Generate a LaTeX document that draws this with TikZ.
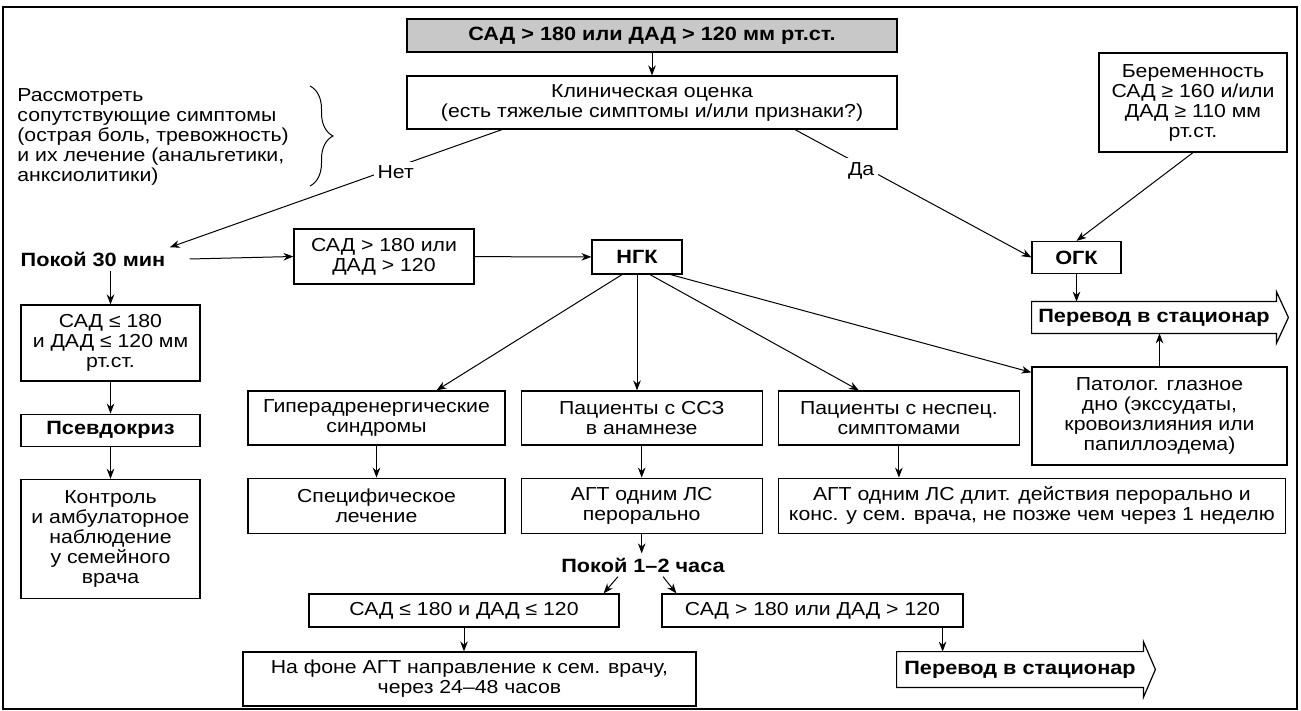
\documentclass[tikz,border=0pt]{standalone}
\usepackage{fontspec}
\setmainfont[FakeStretch=1.13]{Liberation Sans}
\usepackage{tikz}
\usetikzlibrary{positioning,arrows.meta,decorations.pathreplacing,calc}
\definecolor{HeadGrey}{RGB}{200,200,200}
\newcommand{\hosparrow}[1]{\draw[line width=0.6pt] (#1.north west)--(#1.north east)--([yshift=5pt]#1.north east)--([xshift=6pt]#1.east)--([yshift=-5pt]#1.south east)--(#1.south east)--(#1.south west)--cycle;}

\begin{document}
\begin{tikzpicture}[x=0.5pt,y=-0.5pt,
font=\fontsize{9.4}{10}\selectfont,
box/.style={rectangle,draw,line width=0.6pt,align=center,inner sep=2pt},
bold/.style={font=\fontsize{9.6}{10}\selectfont\bfseries},
lbl/.style={fill=white,inner sep=2pt},
arrow/.style={-{Stealth[length=5pt,width=3.8pt]},line width=0.5pt},
frame/.style={draw,line width=1.2pt}
]
\useasboundingbox (0,0) rectangle (1301,711);
\draw[frame] (3,7) rectangle (1297,709);
\node[box,bold,fill=HeadGrey,minimum width=245pt,minimum height=16.5pt] (top) at (652,35.5) {САД > 180 или ДАД > 120 мм рт.ст.};
\node[box,minimum width=245pt,minimum height=26.5pt] (clin) at (652,102.5) {Клиническая оценка\\(есть тяжелые симптомы и/или признаки?)};
\node[align=left,anchor=west,inner sep=0pt] (note) at (17,137) {Рассмотреть\\сопутствующие симптомы\\(острая боль, тревожность)\\и их лечение (анальгетики,\\анксиолитики)};
\coordinate (brtop) at (310,86);
\coordinate (brbot) at (310,186);
\draw[line width=0.5pt,decorate,decoration={brace,amplitude=11.5pt}] (brtop) -- (brbot);
\node[box,minimum width=94pt,minimum height=49.5pt] (preg) at (1193,102.5) {Беременность\\САД ≥ 160 и/или\\ДАД ≥ 110 мм\\рт.ст.};
\node[bold,inner sep=2pt] (pause30) at (93,259) {Покой 30 мин};
\node[box,minimum width=90pt,minimum height=27.5pt] (hi1) at (384,256.5) {САД > 180 или\\ДАД > 120};
\node[box,bold,minimum width=45pt,minimum height=17pt] (ngk) at (637,257) {НГК};
\node[box,bold,minimum width=44.5pt,minimum height=16pt] (ogk) at (1076.5,257.5) {ОГК};
\node[bold,minimum width=122pt,minimum height=15.5pt,inner sep=0pt] (hosp1) at (1154,317.5) {Перевод в стационар};
\hosparrow{hosp1}
\node[box,minimum width=127.5pt,minimum height=49pt] (patho) at (1159.5,416) {Патолог. глазное\\дно (экссудаты,\\кровоизлияния или\\папиллоэдема)};
\node[box,minimum width=89.5pt,minimum height=38pt] (low30) at (110.5,343) {САД ≤ 180\\и ДАД ≤ 120 мм\\рт.ст.};
\node[box,bold,minimum width=89.5pt,minimum height=16pt,below=16pt of low30] (pseudo) {Псевдокриз};
\node[box,minimum width=89.5pt,minimum height=59.5pt,below=16pt of pseudo] (ctrl) {Контроль\\и амбулаторное\\наблюдение\\у семейного\\врача};
\node[box,minimum width=128.5pt,minimum height=27pt] (hyper) at (376.5,418) {Гиперадренергические\\синдромы};
\node[box,minimum width=120.5pt,minimum height=27pt,right=7.5pt of hyper] (ssz) {Пациенты с ССЗ\\в анамнезе};
\node[box,minimum width=120.5pt,minimum height=27pt,right=7.5pt of ssz] (nonsp) {Пациенты с неспец.\\симптомами};
\node[box,minimum width=128.5pt,minimum height=27.5pt,below=16pt of hyper] (spec) {Специфическое\\лечение};
\node[box,minimum width=120.5pt,minimum height=27.5pt,below=16pt of ssz] (agt1) {АГТ одним ЛС\\перорально};
\node[box,minimum width=253.5pt,minimum height=27.5pt,below=16pt of nonsp.south west,anchor=north west] (agt2) {АГТ одним ЛС длит. действия перорально и\\конс. у сем. врача, не позже чем через 1 неделю};
\node[bold,inner sep=2pt] (pause12) at (643,565) {Покой 1–2 часа};
\node[box,minimum width=155pt,minimum height=16.5pt] (lo2) at (464,610.5) {САД ≤ 180 и ДАД ≤ 120};
\node[box,minimum width=150.5pt,minimum height=16.5pt] (hi2) at (812.5,610.5) {САД > 180 или ДАД > 120};
\node[box,minimum width=226.5pt,minimum height=27pt] (refer) at (469.5,679) {На фоне АГТ направление к сем. врачу,\\через 24–48 часов};
\node[bold,minimum width=123pt,minimum height=17.5pt,inner sep=0pt] (hosp2) at (1020,669.5) {Перевод в стационар};
\hosparrow{hosp2}
\draw[arrow] (top) -- (clin);
\draw[arrow] ([xshift=-75pt]clin.south) -- node[lbl,pos=0.32,yshift=-2.5pt]{Нет} (pause30.north east);
\draw[arrow] ([xshift=71.5pt]clin.south) -- node[lbl,pos=0.28,yshift=-2.5pt]{Да} (ogk.west);
\draw[arrow] (preg.south) -- (ogk.north);
\draw[arrow] (ogk.south) -- (ogk.south |- hosp1.north);
\draw[arrow] (patho.north) -- (patho.north |- hosp1.south);
\draw[arrow] ([xshift=10pt]pause30.east) -- (hi1.west);
\draw[arrow] (hi1) -- (ngk);
\draw[arrow] (low30.north |- pause30.south) -- (low30.north);
\draw[arrow] (low30) -- (pseudo);
\draw[arrow] (pseudo) -- (ctrl);
\draw[arrow] ([xshift=-7.5pt]ngk.south) -- ([xshift=30pt]hyper.north);
\draw[arrow] (ngk.south) -- (ngk.south |- ssz.north);
\draw[arrow] ([xshift=6.5pt]ngk.south) -- ([xshift=-20pt]nonsp.north);
\draw[arrow] ([xshift=-6pt]ngk.south east) -- ([yshift=-3pt]patho.north west);
\draw[arrow] (hyper) -- (spec);
\draw[arrow] (ssz) -- (agt1);
\draw[arrow] (nonsp.south) -- (nonsp.south |- agt2.north);
\draw[arrow] (agt1.south) -- (agt1.south |- pause12.north);
\draw[arrow] ([xshift=-12.5pt]pause12.south) -- ([xshift=-8pt]lo2.north east);
\draw[arrow] ([xshift=10pt]pause12.south) -- ([xshift=7.5pt]hi2.north west);
\draw[arrow] (lo2.south) -- (lo2.south |- refer.north);
\draw[arrow] ([xshift=-10.5pt]hi2.south east) -- ([xshift=-10.5pt]hi2.south east |- hosp2.north);
\end{tikzpicture}
\end{document}
